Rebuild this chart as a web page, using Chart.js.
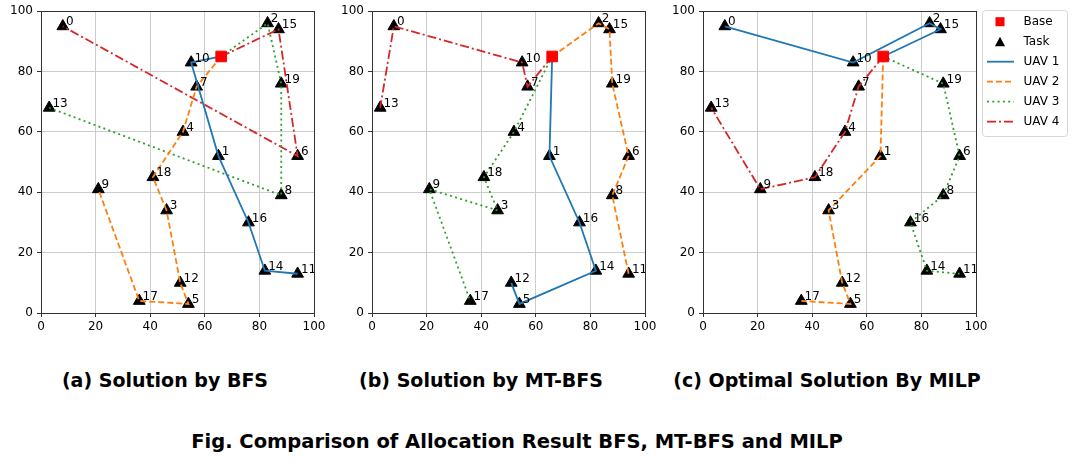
<!DOCTYPE html>
<html>
<head>
<meta charset="utf-8">
<script src="https://cdn.jsdelivr.net/npm/chart.js@4.4.1/dist/chart.umd.min.js"></script>
<style>
    body { margin: 0; background: #fff; width: 1075px; height: 468px; position: relative; overflow: hidden; }
    canvas { position: absolute; top: 0; }
    .cap { position: absolute; font-family: "DejaVu Sans"; font-weight: bold; font-size: 19px; line-height: 19px;
           white-space: nowrap; transform: translateX(-50%); color: #000; }
</style>
</head>
<body>
<canvas id="bfs" width="330" height="335" style="left:0px"></canvas>
<canvas id="mtbfs" width="330" height="335" style="left:331px"></canvas>
<canvas id="milp" width="413" height="335" style="left:662px"></canvas>
<div class="cap" style="left:165px;top:371px">(a) Solution by BFS</div>
<div class="cap" style="left:481px;top:371px">(b) Solution by MT-BFS</div>
<div class="cap" style="left:827px;top:371px">(c) Optimal Solution By MILP</div>
<div class="cap" style="left:517px;top:432px;font-size:19.5px">Fig. Comparison of Allocation Result BFS, MT-BFS and MILP</div>
<script>
// task positions, index = task number
const taskX = [8, 65, 83, 46, 52, 54, 94, 57, 88, 21, 55, 94, 51, 3, 82, 87, 76, 36, 41, 88];
const taskY = [95, 52, 96, 34, 60, 3, 52, 75, 39, 41, 83, 13, 10, 68, 14, 94, 30, 4, 45, 76];
const baseX = [66];
const baseY = [85];

// routes per UAV (UAV 1..4), -1 means the base
const routesBFS = [[-1, 10, 1, 16, 14, 11], [-1, 7, 4, 18, 3, 12, 5, 17, 9], [-1, 2, 19, 8, 13], [-1, 15, 6, 0]];
const routesMTBFS = [[-1, 1, 16, 14, 5, 12], [-1, 2, 15, 19, 6, 8, 11], [-1, 4, 18, 3, 9, 17], [-1, 7, 10, 0, 13]];
const routesMILP = [[-1, 15, 2, 10, 0], [-1, 1, 3, 12, 5, 17], [-1, 19, 6, 8, 16, 14, 11], [-1, 7, 4, 18, 9, 13]];

const axisTicks = [0, 20, 40, 60, 80, 100];
const uavNames = ['UAV 1', 'UAV 2', 'UAV 3', 'UAV 4'];
const uavColors = ['#1f77b4', '#ff7f0e', '#2ca02c', '#d62728'];
const uavDashes = [[], [6, 3], [2, 3.3], [9, 3, 2, 3]];

const FONT = '"DejaVu Sans"';

function routePoints(route) {
    return route.map(k => k < 0 ? {x: baseX[0], y: baseY[0]} : {x: taskX[k], y: taskY[k]});
}

// task number next to each triangle
const taskLabels = {
    id: 'taskLabels',
    afterDatasetsDraw(chart) {
        const ctx = chart.ctx;
        const x = chart.scales.x, y = chart.scales.y;
        ctx.save();
        ctx.font = '12px ' + FONT;
        ctx.fillStyle = '#000';
        ctx.textBaseline = 'alphabetic';
        taskX.forEach((tx, i) => {
            ctx.fillText(String(i), x.getPixelForValue(tx + 1.2), y.getPixelForValue(taskY[i] + 0.3));
        });
        ctx.restore();
    }
};

// box around the plot area like matplotlib spines
const frame = {
    id: 'frame',
    afterDraw(chart) {
        const a = chart.chartArea;
        const ctx = chart.ctx;
        ctx.save();
        ctx.strokeStyle = '#333';
        ctx.lineWidth = 1;
        ctx.strokeRect(Math.round(a.left) + 0.5, Math.round(a.top) + 0.5, Math.round(a.right - a.left), Math.round(a.bottom - a.top));
        ctx.restore();
    }
};

// legend box right of the last plot
const sideLegend = {
    id: 'sideLegend',
    afterDraw(chart) {
        const ctx = chart.ctx;
        const x0 = 320.5, y0 = 10.5, w = 85, h = 126;
        ctx.save();
        ctx.beginPath();
        ctx.roundRect(x0, y0, w, h, 3);
        ctx.fillStyle = 'rgba(255,255,255,0.8)';
        ctx.fill();
        ctx.strokeStyle = '#d6d6d6';
        ctx.lineWidth = 1;
        ctx.stroke();
        ctx.font = '12px ' + FONT;
        ctx.textBaseline = 'middle';
        chart.data.datasets.forEach((ds, i) => {
            const cy = 21.7 + 20 * i;
            const cx = 338;
            ctx.setLineDash([]);
            if (ds.label === 'Base') {
                ctx.fillStyle = 'red';
                ctx.fillRect(cx - 4.5, cy - 4.5, 9, 9);
            } else if (ds.label === 'Task') {
                ctx.fillStyle = '#000';
                ctx.beginPath();
                ctx.moveTo(cx, cy - 5);
                ctx.lineTo(cx + 5, cy + 4.5);
                ctx.lineTo(cx - 5, cy + 4.5);
                ctx.closePath();
                ctx.fill();
            } else {
                ctx.strokeStyle = ds.borderColor;
                ctx.lineWidth = ds.borderWidth;
                ctx.setLineDash(ds.borderDash);
                ctx.beginPath();
                ctx.moveTo(325, cy);
                ctx.lineTo(352, cy);
                ctx.stroke();
            }
            ctx.fillStyle = '#000';
            ctx.fillText(ds.label, 361.5, cy + 0.5);
        });
        ctx.restore();
    }
};

function makeMap(canvasId, routes, rightPad, plugins) {
    const ctx = document.getElementById(canvasId).getContext('2d');
    const datasets = [{
        label: 'Base',
        data: [{x: baseX[0], y: baseY[0]}],
        pointStyle: 'rect',
        pointRadius: 7.5,
        backgroundColor: 'red',
        borderColor: 'red',
        borderWidth: 1,
        order: 0
    }, {
        label: 'Task',
        data: taskX.map((tx, i) => ({x: tx, y: taskY[i]})),
        pointStyle: 'triangle',
        pointRadius: 6.8,
        backgroundColor: '#000',
        borderColor: '#000',
        borderWidth: 1,
        order: 2
    }];
    routes.forEach((route, u) => {
        datasets.push({
            label: uavNames[u],
            data: routePoints(route),
            showLine: true,
            pointRadius: 0,
            borderColor: uavColors[u],
            borderDash: uavDashes[u],
            borderWidth: 1.8,
            fill: false,
            tension: 0,
            order: 1
        });
    });
    return new Chart(ctx, {
        type: 'scatter',
        data: {datasets: datasets},
        options: {
            responsive: false,
            animation: false,
            events: [],
            layout: {padding: {left: 0, right: rightPad, top: 11, bottom: 0}},
            plugins: {legend: {display: false}, tooltip: {enabled: false}},
            scales: {
                x: {
                    type: 'linear', min: 0, max: 100,
                    afterBuildTicks(s) { s.ticks = axisTicks.map(v => ({value: v})); },
                    afterFit(s) { s.height = 22; },
                    ticks: {font: {family: FONT, size: 12}, color: '#000', padding: 3, maxRotation: 0},
                    grid: {color: '#cccccc', lineWidth: 1, tickColor: '#333', tickLength: 4},
                    border: {display: false}
                },
                y: {
                    type: 'linear', min: 0, max: 100,
                    afterBuildTicks(s) { s.ticks = axisTicks.map(v => ({value: v})); },
                    afterFit(s) { s.width = 41; },
                    ticks: {font: {family: FONT, size: 12}, color: '#000', padding: 4},
                    grid: {color: '#cccccc', lineWidth: 1, tickColor: '#333', tickLength: 4},
                    border: {display: false}
                }
            }
        },
        plugins: [taskLabels, frame].concat(plugins)
    });
}

makeMap('bfs', routesBFS, 16, []);
makeMap('mtbfs', routesMTBFS, 16, []);
makeMap('milp', routesMILP, 99, [sideLegend]);
</script>
</body>
</html>
